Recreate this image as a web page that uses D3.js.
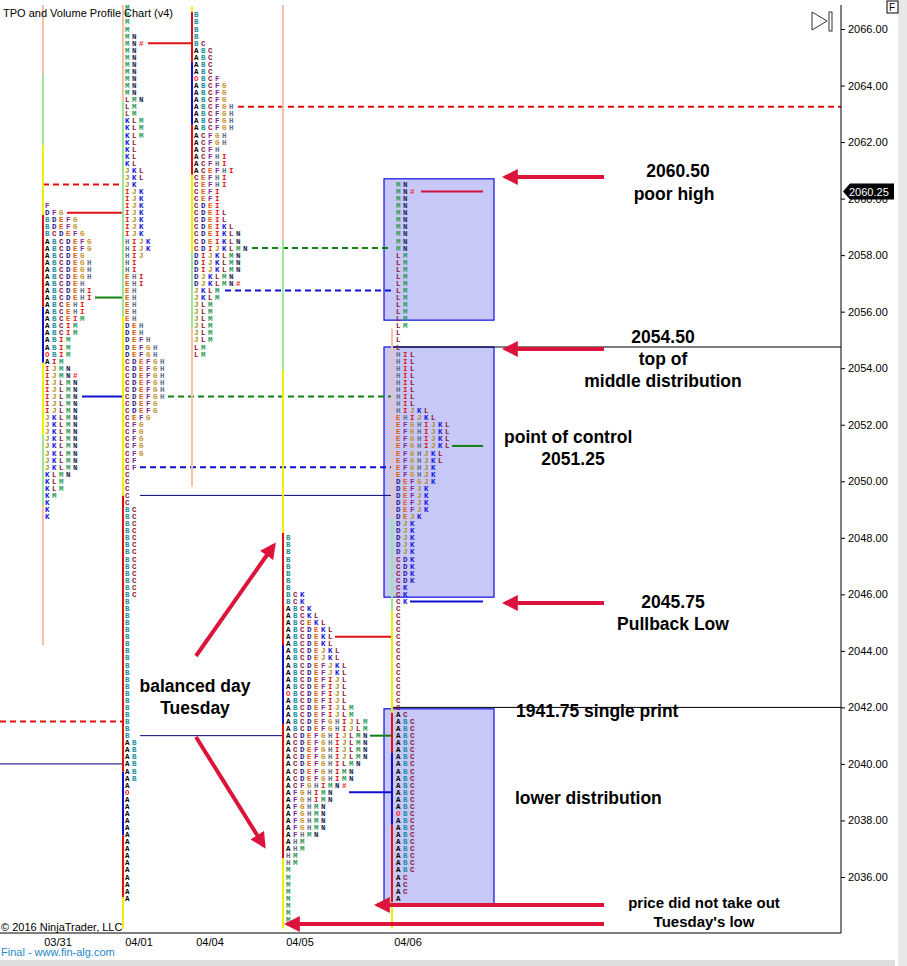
<!DOCTYPE html>
<html>
<head>
<meta charset="utf-8">
<script src="https://cdn.jsdelivr.net/npm/d3@7"></script>
<style>
body { margin: 0; background: #fff; }
svg { font-family: "Liberation Sans", Arial, sans-serif; }
</style>
</head>
<body>
<script>
// session profiles (top price, rows from top down)
var sessions = ["03/31", "04/01", "04/04", "04/05", "04/06"];
var topPrices = [2059.75, 2066.75, 2066.5, 2048.0, 2060.5];

function rep(s, n) { return Array(n).fill(s); }

var rows0331 = [].concat(["F", "DFG"], rep("BDEFG", 2), ["BCDEFG"], rep("ABCDEFG", 2), ["ABCDEG"],
  rep("ABCDEGH", 3), ["ABCDEH"], rep("ABCDEHI", 2), rep("ABCEHI", 2), ["ABCEIM"], rep("ABCIM", 2),
  rep("ABIM", 2), ["OBIM", "AIM", "IJMN", "IJMN#"], rep("IJLMN", 5), rep("JKLMN", 8),
  ["KLMN", "KLM", "KLM", "KM"], rep("K", 3));
var rows0401 = [].concat(rep("M", 4), ["MN", "MN#"], rep("MN", 7), ["LMN"], rep("LM", 2), rep("KLM", 3),
  rep("KL", 4), rep("JKL", 2), ["JK"], rep("IJK", 7), rep("HIJK", 2), ["HIJ"], rep("HI", 2), rep("EHI", 2),
  rep("EH", 5), rep("DEH", 2), ["DEFH"], rep("DEFGH", 2), rep("CDEFGH", 6), rep("CDEFG", 2), ["CEFG"],
  rep("CFG", 5), rep("CF", 2), rep("C", 5), rep("BC", 13), rep("B", 20), rep("AB", 6),
  ["A", "O"], rep("A", 15));
var rows0404 = [].concat(rep("B", 4), ["BC"], rep("ABC", 4), ["OBCF"], rep("ABCFG", 3), rep("ABCFGH", 4),
  rep("ACFGH", 2), ["ACFH"], rep("ACFHI", 2), ["ACEFHI"], rep("CEFHI", 2), rep("CEFI", 2), ["CDEI"],
  rep("CDEIL", 2), ["CDEIKL"], rep("CDEIKLN", 2), ["CDIJKLMN"], rep("DIJKLMN", 3), ["DJKLMN", "DJKLMN#"],
  rep("JKLM", 2), rep("JLM", 6), rep("LM", 2));
var rows0405 = [].concat(rep("B", 8), rep("BCK", 2), ["ABCK", "ABCKL", "ABCEKL"], rep("ABCDEKL", 3),
  rep("ABCDEJKL", 2), rep("ABCDEFJKL", 2), rep("ABCDEFIJL", 2), ["OBCDEFIJL", "ABCDEFIJL"],
  rep("ABCDEFIJLM", 2), rep("ABCDEFGHIJLM", 2), rep("ACDEFGHIJLMN", 4), ["ACDEFGHILMN"],
  rep("ACDEFGHIMN", 2), ["ACFGHIMN#"], rep("AFGHIMN", 2), rep("AFGHMN", 4), ["AFHMN"], rep("AHM", 2),
  rep("HM", 2), rep("M", 8));
var rows0406 = [].concat(["MN", "MN#"], rep("MN", 8), rep("LM", 11), rep("L", 3), rep("HIL", 8),
  ["HIJKL", "EHIJKL"], rep("EFGHIJKL", 4), rep("EFGHJKL", 2), rep("EFGHJK", 2), ["DEFGJK"],
  rep("DEFJK", 4), ["DEJK"], rep("DJK", 5), rep("CDK", 4), rep("CK", 3), rep("C", 15), ["AC"],
  rep("ABC", 13), ["OBC"], rep("ABC", 8), rep("AC", 3), ["A"]);
var profiles = [rows0331, rows0401, rows0404, rows0405, rows0406];

var letterColors = { A: "#000000", B: "#1a8fa0", C: "#8b1538", D: "#2a1a90", E: "#e0600a", F: "#7a2a9a",
  G: "#c49020", H: "#5f7388", I: "#e01010", J: "#a88a10", K: "#1515e0", L: "#8a2040", M: "#2e9a5a",
  N: "#1c2a50", O: "#ff2020", "#": "#ff2020" };

// range bar segments per session: [high, low, colour]
var barSegments = [
  [[2066.85, 2064.37, "#f8c0a8"], [2064.37, 2061.9, "#98e898"], [2061.9, 2059.42, "#f0f000"], [2059.42, 2056.17, "#e01010"],
   [2056.17, 2054.19, "#1010d0"], [2054.19, 2051.64, "#f0f000"], [2051.64, 2049.16, "#98e898"], [2049.16, 2044.21, "#f8c0a8"]],
  [[2066.85, 2063.46, "#f8c0a8"], [2063.46, 2055.82, "#98e898"], [2055.82, 2049.49, "#f0f000"], [2049.49, 2039.73, "#e01010"],
   [2039.73, 2037.47, "#1010d0"], [2037.47, 2035.28, "#e01010"], [2035.28, 2034.18, "#f0f000"]],
  [[2066.8, 2066.6, "#f0f000"], [2066.6, 2064.84, "#e01010"], [2064.84, 2062.61, "#1010d0"], [2062.61, 2060.84, "#e01010"],
   [2060.84, 2058.12, "#f0f000"], [2058.12, 2055.4, "#98e898"], [2055.4, 2049.81, "#f8c0a8"]],
  [[2066.85, 2058.54, "#f8c0a8"], [2058.54, 2053.94, "#98e898"], [2053.94, 2048.17, "#f0f000"], [2048.17, 2044.21, "#e01010"],
   [2044.21, 2041.41, "#1010d0"], [2041.41, 2036.67, "#e01010"], [2036.67, 2034.18, "#f0f000"]],
  [[2055.4, 2048.68, "#f8c0a8"], [2048.68, 2045.42, "#98e898"], [2045.42, 2041.81, "#f0f000"], [2041.81, 2040.4, "#e01010"],
   [2040.4, 2037.85, "#1010d0"], [2037.85, 2035.1, "#e01010"], [2035.1, 2034.18, "#f0f000"]]
];

// level lines: [price, x1, x2, colour, dashed, width]
var levels = [
  [2060.5, 43, 123, "#e01010", true, 2], [2059.5, 67, 123, "#e01010", false, 2],
  [2056.5, 95, 123, "#108010", false, 2], [2053.0, 82, 123, "#1010d0", false, 2],
  [2041.5, 0, 123, "#e01010", true, 2], [2040.0, 0, 123, "#000080", false, 1],
  [2065.5, 148, 192, "#e01010", false, 2], [2063.25, 238, 841, "#e01010", true, 2],
  [2058.25, 252, 392, "#108010", true, 2], [2056.75, 225, 392, "#1010d0", true, 2],
  [2053.0, 168, 392, "#108010", true, 2], [2050.5, 140, 392, "#1010d0", true, 2],
  [2049.5, 140, 392, "#000080", false, 1], [2041.0, 140, 283, "#000080", false, 1],
  [2054.75, 392, 841, "#000000", false, 1], [2042.0, 392, 841, "#000000", false, 1],
  [2044.5, 335, 392, "#e01010", false, 2], [2041.0, 370, 392, "#108010", false, 2],
  [2039.0, 349, 392, "#1010d0", false, 2],
  [2060.25, 421, 483, "#d0103c", false, 2], [2051.25, 452, 483, "#108010", false, 2],
  [2045.75, 410, 483, "#1010d0", false, 2]
];

// distribution boxes [high, low]
var boxes = [[2060.7, 2055.7], [2054.75, 2045.9], [2041.95, 2035.0]];

var yTicks = [2066, 2064, 2062, 2060, 2058, 2056, 2054, 2052, 2050, 2048, 2046, 2044, 2042, 2040, 2038, 2036];

var W = 907, H = 966, axisX = 841, plotTop = 5, plotBottom = 933;
var svg = d3.select("body").append("svg").attr("width", W).attr("height", H);

var y = d3.scaleLinear().domain([2036, 2066]).range([877, 29]);
var colX = { "03/31": 45, "04/01": 125, "04/04": 194, "04/05": 286, "04/06": 396 };
var barX = { "03/31": 43, "04/01": 123, "04/04": 192, "04/05": 283, "04/06": 392 };
var dateX = { "03/31": 58, "04/01": 139, "04/04": 210, "04/05": 300, "04/06": 408 };

// boxes behind letters
svg.selectAll("rect.box").data(boxes).enter().append("rect")
  .attr("x", 384).attr("width", 110)
  .attr("y", function (d) { return y(d[0]); })
  .attr("height", function (d) { return y(d[1]) - y(d[0]); })
  .attr("fill", "#c8c8f8").attr("stroke", "#1010e0").attr("stroke-width", 1.2);

// level lines
svg.selectAll("line.level").data(levels).enter().append("line")
  .attr("x1", function (d) { return d[1]; }).attr("x2", function (d) { return d[2]; })
  .attr("y1", function (d) { return y(d[0]); }).attr("y2", function (d) { return y(d[0]); })
  .attr("stroke", function (d) { return d[3]; }).attr("stroke-width", function (d) { return d[5]; })
  .attr("stroke-dasharray", function (d) { return d[4] ? "6,4" : null; });

// range bars
sessions.forEach(function (s, i) {
  svg.selectAll(null).data(barSegments[i]).enter().append("line")
    .attr("x1", barX[s]).attr("x2", barX[s])
    .attr("y1", function (d) { return Math.max(plotTop, y(d[0])); })
    .attr("y2", function (d) { return Math.min(plotBottom, y(d[1])); })
    .attr("stroke", function (d) { return d[2]; }).attr("stroke-width", 2);
});

// TPO letters
sessions.forEach(function (s, i) {
  var g = svg.append("g");
  profiles[i].forEach(function (row, r) {
    var p = topPrices[i] - r * 0.25;
    row.split("").forEach(function (ch, k) {
      g.append("text")
        .attr("x", colX[s] + k * 7).attr("y", y(p) + 2.5)
        .attr("font-family", "Liberation Mono, DejaVu Sans Mono, monospace")
        .attr("font-size", 7.5).attr("font-weight", "bold")
        .attr("fill", letterColors[ch] || "#000")
        .text(ch);
    });
  });
});

// axis
svg.append("line").attr("x1", axisX).attr("x2", axisX).attr("y1", plotTop).attr("y2", plotBottom)
  .attr("stroke", "#000");
svg.append("line").attr("x1", 0).attr("x2", axisX).attr("y1", plotBottom).attr("y2", plotBottom)
  .attr("stroke", "#000");
var axis = d3.axisRight(y).tickValues(yTicks).tickSize(4).tickFormat(d3.format(".2f"));
var ag = svg.append("g").attr("transform", "translate(" + axisX + ",0)").call(axis);
ag.select(".domain").remove();
ag.selectAll("text").attr("font-size", 11).attr("font-family", "Liberation Sans, Arial").attr("fill", "#000");

// current price marker
var mk = svg.append("g").attr("transform", "translate(0," + y(2060.25) + ")");
mk.append("path").attr("d", "M843,0 L850,-8 L894,-8 L894,8 L850,8 Z").attr("fill", "#000");
mk.append("text").attr("x", 849).attr("y", 4).attr("font-size", 11).attr("fill", "#fff").text("2060.25");

// date labels
svg.selectAll("text.date").data(sessions).enter().append("text")
  .attr("x", function (d) { return dateX[d]; }).attr("y", 946).attr("text-anchor", "middle")
  .attr("font-size", 11).text(function (d) { return d; });

// arrows
svg.append("defs").append("marker").attr("id", "ah").attr("viewBox", "0 0 10 10")
  .attr("refX", 8).attr("refY", 5).attr("markerWidth", 4).attr("markerHeight", 4).attr("orient", "auto")
  .append("path").attr("d", "M0,0 L10,5 L0,10 Z").attr("fill", "#dc143c");
var arrows = [[604, 177, 505, 177], [604, 349, 505, 349], [604, 603, 505, 603], [604, 905, 377, 905],
  [604, 924, 287, 924], [196, 656, 274, 545], [196, 737, 264, 846]];
svg.selectAll("line.arrow").data(arrows).enter().append("line")
  .attr("x1", function (d) { return d[0]; }).attr("y1", function (d) { return d[1]; })
  .attr("x2", function (d) { return d[2]; }).attr("y2", function (d) { return d[3]; })
  .attr("stroke", "#dc143c").attr("stroke-width", 4).attr("marker-end", "url(#ah)");

// annotations
var notes = [["2060.50", 678, 177, "middle"], ["poor high", 674, 200, "middle"],
  ["2054.50", 663, 343, "middle"], ["top of", 663, 365, "middle"], ["middle distribution", 663, 387, "middle"],
  ["point of control", 504, 443, "start"], ["2051.25", 573, 465, "middle"],
  ["2045.75", 673, 608, "middle"], ["Pullback Low", 673, 630, "middle"],
  ["1941.75 single print", 516, 717, "start"], ["lower distribution", 515, 804, "start"],
  ["balanced day", 195, 692, "middle"], ["Tuesday", 195, 714, "middle"],
  ["price did not take out", 704, 908, "middle"], ["Tuesday's low", 704, 927, "middle"]];
svg.selectAll("text.note").data(notes).enter().append("text")
  .attr("x", function (d) { return d[1]; }).attr("y", function (d) { return d[2]; })
  .attr("text-anchor", function (d) { return d[3]; })
  .attr("font-size", function (d) { return d[2] > 900 ? 15 : 17.5; }).attr("font-weight", "bold")
  .text(function (d) { return d[0]; });

// chrome
svg.append("text").attr("x", 3).attr("y", 17).attr("font-size", 11).text("TPO and Volume Profile Chart (v4)");
svg.append("text").attr("x", 1).attr("y", 931).attr("font-size", 11).text("\u00a9 2016 NinjaTrader, LLC");
svg.append("text").attr("x", 1).attr("y", 956).attr("font-size", 11).attr("fill", "#1e88c8").text("Final - www.fin-alg.com");
svg.append("rect").attr("x", 0).attr("y", 960).attr("width", 895).attr("height", 6).attr("fill", "#ddd");
svg.append("rect").attr("x", 898).attr("y", 0).attr("width", 9).attr("height", 966).attr("fill", "#e8e8e8");
svg.append("rect").attr("x", 887).attr("y", 1).attr("width", 11).attr("height", 12).attr("fill", "#fff").attr("stroke", "#000");
svg.append("text").attr("x", 889).attr("y", 11).attr("font-size", 10).text("F");
svg.append("path").attr("d", "M812,12 L827,21 L812,30 Z").attr("fill", "none").attr("stroke", "#333");
svg.append("rect").attr("x", 829).attr("y", 12).attr("width", 3).attr("height", 19).attr("fill", "none").attr("stroke", "#333");
</script>
</body>
</html>
